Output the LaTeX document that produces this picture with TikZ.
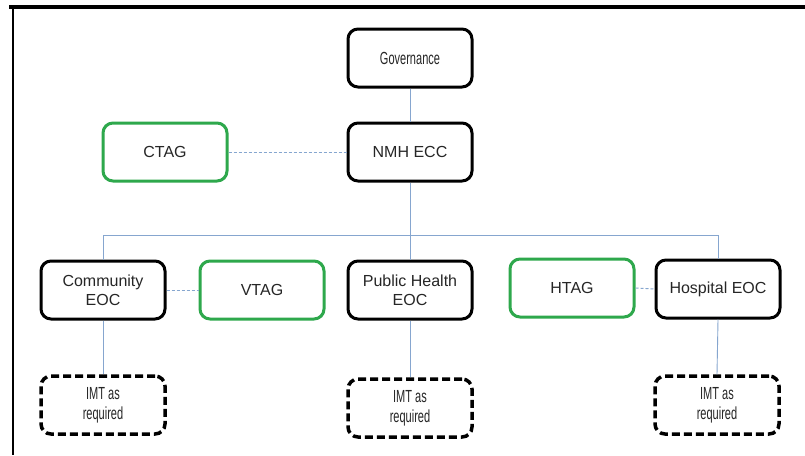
\documentclass[tikz,border=0pt]{standalone}
\usepackage{fontspec}
\setmainfont{Liberation Sans}
\newcommand{\condensed}[1]{\scalebox{0.63}[1]{#1}}
\begin{document}
\begin{tikzpicture}[x=1pt,y=-1pt,
  txt/.style={font=\fontsize{16}{19}\selectfont, text=black!85, align=center},
  cond/.style={font=\fontsize{17.5}{20}\selectfont},
  box/.style={txt, draw=black, line width=3pt, rounded corners=10pt,
    minimum width=124pt, minimum height=58pt, inner sep=2pt},
  tagbox/.style={box, draw=tagGreen},
  imtbox/.style={box, cond, dash pattern=on 8pt off 4pt, line width=3.5pt},
  link/.style={draw=linkBlue, line width=0.9pt},
  dlink/.style={link, dash pattern=on 3pt off 2pt}]
\definecolor{tagGreen}{HTML}{2EA84C}
\definecolor{linkBlue}{HTML}{86A6CF}
\useasboundingbox (0,0) rectangle (805,455);
\fill[white] (0,0) rectangle (805,455);

% outer frame
\draw[line width=4pt] (9,7) -- (805,7);
\draw[line width=2.6pt] (13,7) -- (13,455);

% nodes
\node[box, cond] (gov) at (410,58) {\condensed{Governance}};
\node[box] (nmh) at (410,152) {NMH ECC};
\node[tagbox] (ctag) at (165,152) {CTAG};
\node[box] (com) at (103,290) {Community\\EOC};
\node[tagbox] (vtag) at (262,290) {VTAG};
\node[box] (ph) at (410,290) {Public Health\\EOC};
\node[tagbox] (htag) at (572,288) {HTAG};
\node[box] (hosp) at (718,289) {Hospital EOC};
\node[imtbox] (imtA) at (103,405) {\condensed{IMT as}\\\condensed{required}};
\node[imtbox] (imtB) at (410,408) {\condensed{IMT as}\\\condensed{required}};
\node[imtbox] (imtC) at (717,405) {\condensed{IMT as}\\\condensed{required}};

% bus line
\coordinate (busL) at (com.north |- 0,235);
\coordinate (busR) at (hosp.north |- 0,235);

% connectors
\draw[link] (gov.south) -- (nmh.north);
\draw[link] (nmh.south) -- (ph.north);
\draw[link] (busL) -- (busR);
\draw[link] (busL) -- (com.north);
\draw[link] (busR) -- (hosp.north);
\draw[link] (com.south) -- (imtA.north);
\draw[link] (ph.south) -- (imtB.north);
\draw[link] (hosp.south) -- (imtC.north);
\draw[dlink] (ctag.east) -- (nmh.west);
\draw[dlink] (com.east) -- (vtag.west);
\draw[dlink] (htag.east) -- (hosp.west);
\end{tikzpicture}
\end{document}
